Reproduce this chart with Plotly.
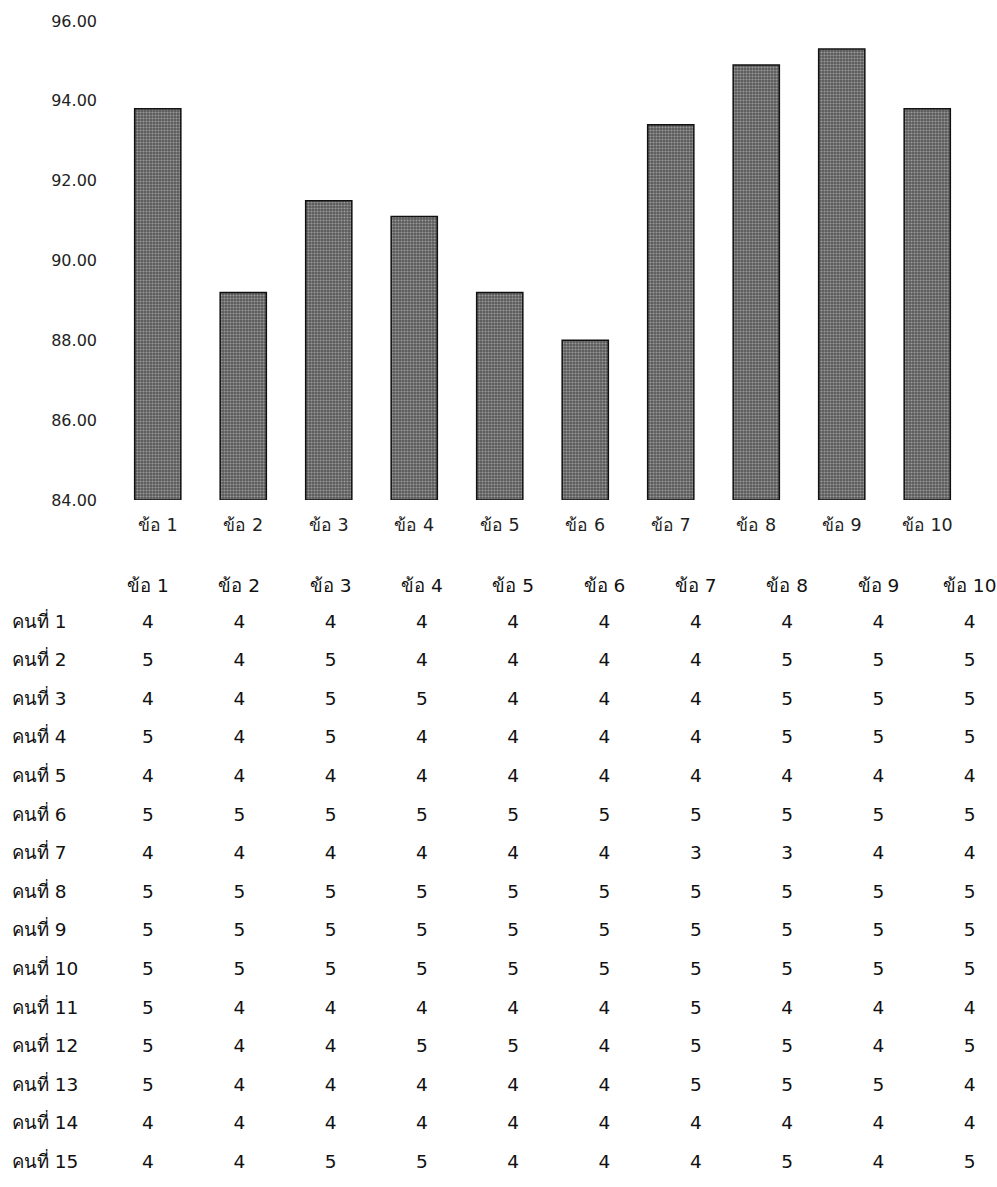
import plotly.graph_objects as go

# --- data ---
items = ["ข้อ 1", "ข้อ 2", "ข้อ 3", "ข้อ 4", "ข้อ 5", "ข้อ 6", "ข้อ 7", "ข้อ 8", "ข้อ 9", "ข้อ 10"]
bar_values = [93.8, 89.2, 91.5, 91.1, 89.2, 88.0, 93.4, 94.9, 95.3, 93.8]
y_ticks = [84, 86, 88, 90, 92, 94, 96]

people = ["คนที่ %d" % i for i in range(1, 16)]
scores = [
    [4, 4, 4, 4, 4, 4, 4, 4, 4, 4],
    [5, 4, 5, 4, 4, 4, 4, 5, 5, 5],
    [4, 4, 5, 5, 4, 4, 4, 5, 5, 5],
    [5, 4, 5, 4, 4, 4, 4, 5, 5, 5],
    [4, 4, 4, 4, 4, 4, 4, 4, 4, 4],
    [5, 5, 5, 5, 5, 5, 5, 5, 5, 5],
    [4, 4, 4, 4, 4, 4, 3, 3, 4, 4],
    [5, 5, 5, 5, 5, 5, 5, 5, 5, 5],
    [5, 5, 5, 5, 5, 5, 5, 5, 5, 5],
    [5, 5, 5, 5, 5, 5, 5, 5, 5, 5],
    [5, 4, 4, 4, 4, 4, 5, 4, 4, 4],
    [5, 4, 4, 5, 5, 4, 5, 5, 4, 5],
    [5, 4, 4, 4, 4, 4, 5, 5, 5, 4],
    [4, 4, 4, 4, 4, 4, 4, 4, 4, 4],
    [4, 4, 5, 5, 4, 4, 4, 5, 4, 5],
]
# ---------------------------------

W, H = 997, 1187
FONT = "DejaVu Sans, Noto Sans, sans-serif"
TABLE_SIZE = 18.5

fig = go.Figure()

# bar chart (top)
fig.add_trace(go.Bar(
    x=list(range(len(items))), y=[v - 84 for v in bar_values], base=84,
    marker=dict(color="#5e5e5e", line=dict(color="#111111", width=1.5),
                pattern=dict(shape=".", fgcolor="#d8d8d8", bgcolor="#5a5a5a",
                             size=3, solidity=0.4)),
    xaxis="x", yaxis="y", showlegend=False, hoverinfo="skip",
))

# table (bottom) as text on a second pair of axes
cols, rows, txt = [], [], []
for r, row in enumerate(scores):
    for c, v in enumerate(row):
        cols.append(c)
        rows.append(r)
        txt.append(str(v))
fig.add_trace(go.Scatter(
    x=cols, y=rows, text=txt, mode="text", textposition="middle center",
    textfont=dict(family=FONT, size=TABLE_SIZE, color="#111111"),
    xaxis="x2", yaxis="y2", showlegend=False, hoverinfo="skip",
))
# header row
fig.add_trace(go.Scatter(
    x=list(range(len(items))), y=[-0.93] * len(items), text=items, mode="text",
    textposition="middle center", textfont=dict(family=FONT, size=TABLE_SIZE, color="#111111"),
    xaxis="x2", yaxis="y2", showlegend=False, hoverinfo="skip",
))
# row labels
fig.add_trace(go.Scatter(
    x=[-1.49] * len(people), y=list(range(len(people))), text=people, mode="text",
    textposition="middle right", textfont=dict(family=FONT, size=TABLE_SIZE, color="#111111"),
    xaxis="x2", yaxis="y2", showlegend=False, hoverinfo="skip",
))

x0_px, x1_px = 115, 970
fig.update_layout(
    width=W, height=H,
    margin=dict(l=0, r=0, t=0, b=0, autoexpand=False),
    paper_bgcolor="white", plot_bgcolor="white",
    font=dict(family=FONT, size=16, color="#222222"),
    bargap=0.46,
    xaxis=dict(domain=[x0_px / W, x1_px / W], range=[-0.5, len(items) - 0.5],
               tickvals=list(range(len(items))), ticktext=items,
               showgrid=False, zeroline=False, showline=False, automargin=False,
               tickfont=dict(size=17.5), ticklabelstandoff=12),
    yaxis=dict(domain=[1 - 500 / H, 1 - 21 / H], range=[84, 96],
               tickvals=y_ticks, ticktext=["%.2f" % t for t in y_ticks],
               showgrid=False, zeroline=False, showline=False, automargin=False,
               tickfont=dict(size=16), ticklabelstandoff=17),
    xaxis2=dict(domain=[0, 1], range=[-148 / 91.3, (W - 148) / 91.3],
                visible=False, anchor="y2", automargin=False),
    yaxis2=dict(domain=[0, 1 - 560 / H], range=[(H - 623) / 38.6, (560 - 623) / 38.6],
                visible=False, anchor="x2", automargin=False),
)

# drop the browser's default body margin so the figure sits at the page corner
fig.write_html("out.html", config={"displayModeBar": False},
               post_script="document.body.style.margin='0';")
